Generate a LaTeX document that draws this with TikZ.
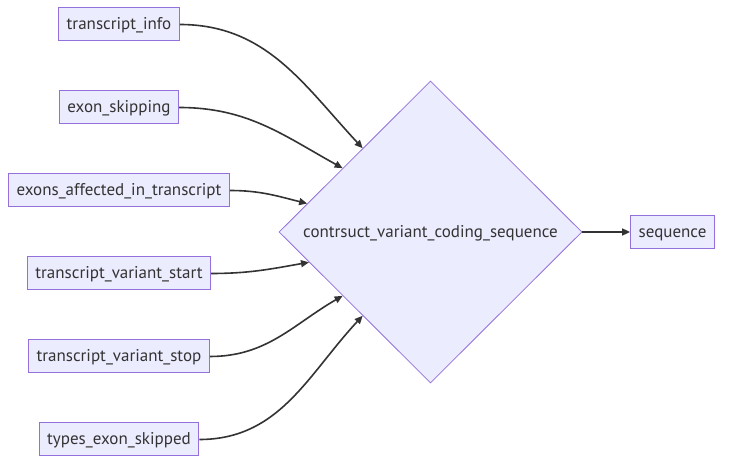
\documentclass[tikz,border=0pt]{standalone}
\usepackage{fontspec}
\setmainfont{PT Sans}
\usepackage{tikz}
\usetikzlibrary{shapes.geometric,arrows.meta,positioning}
\definecolor{mfill}{HTML}{ECECFF}
\definecolor{mstroke}{HTML}{9370DB}
\definecolor{mline}{HTML}{333333}
\tikzset{
  inbox/.style={rectangle, draw=mstroke, fill=mfill, line width=1pt,
                minimum height=33pt, inner xsep=8pt, inner ysep=0pt,
                text height=11pt, text depth=0pt,
                font=\fontsize{17}{20}\selectfont, text=mline},
  decide/.style={diamond, draw=mstroke, fill=mfill, line width=0.8pt,
                 minimum width=303pt, minimum height=302pt, inner sep=0pt,
                 text height=11pt, text depth=0pt,
                 font=\fontsize{17}{20}\selectfont, text=mline},
  flow/.style={-{Triangle[length=8pt,width=7pt]}, line width=1.6pt, mline},
}
\begin{document}
\begin{tikzpicture}[x=1pt,y=1pt]
  \useasboundingbox (0,0) rectangle (729,-470);
  % Input boxes
  \node[inbox] (info)  at (119,-24.5)  {transcript\_info};
  \node[inbox] (skip)  at (119,-107.5) {exon\_skipping};
  \node[inbox] (exons) at (119,-190.5) {exons\_affected\_in\_transcript};
  \node[inbox] (start) at (119,-273.5) {transcript\_variant\_start};
  \node[inbox] (stop)  at (119,-356.5) {transcript\_variant\_stop};
  \node[inbox] (types) at (119,-439.5) {types\_exon\_skipped};
  % Decision and result
  \node[decide] (cvcs) at (430.5,-232) {contrsuct\_variant\_coding\_sequence};
  \node[inbox]  (seq)  at (672.5,-232) {sequence};
  % Connectors
  \draw[flow] (info.east)  to[out=0,in=133] (cvcs.129.5);
  \draw[flow] (skip.east)  to[out=0,in=151] (cvcs.144);
  \draw[flow] (exons.east) to[out=0,in=166] (cvcs.167);
  \draw[flow] (start.east) to[out=0,in=190] (cvcs.194);
  \draw[flow] (stop.east)  to[out=0,in=210] (cvcs.216);
  \draw[flow] (types.east) to[out=0,in=227] (cvcs.231);
  \draw[flow] (cvcs.east) -- (seq.west);
\end{tikzpicture}
\end{document}
